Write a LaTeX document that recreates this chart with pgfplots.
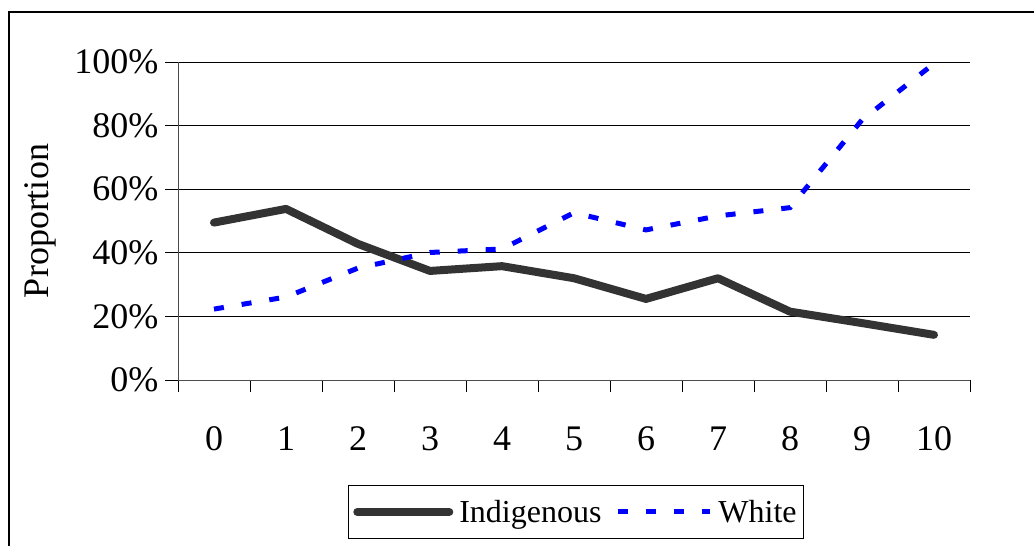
\documentclass[border=0pt]{standalone}
\usepackage{fontspec}
\setmainfont{Liberation Serif}
\usepackage{pgfplots}
\pgfplotsset{compat=1.18}

\definecolor{indig}{RGB}{51,51,51}
\definecolor{whiteser}{RGB}{0,0,255}

\newcommand{\tickfont}{\fontsize{36bp}{42bp}\selectfont}
\newcommand{\legfont}{\fontsize{32bp}{38bp}\selectfont}

\begin{document}
\begin{tikzpicture}
\path[use as bounding box, clip] (0,0) rectangle (1034bp,546bp);
% outer frame (right and bottom edges fall outside the picture)
\draw[line width=1.3bp] (9bp,-10bp) -- (9bp,534bp) -- (1050bp,534bp);

\begin{axis}[
    at={(178bp,166bp)}, anchor=south west,
    scale only axis,
    width=792bp, height=318bp,
    xmin=-0.5, xmax=10.5,
    ymin=0, ymax=100,
    axis x line=bottom, axis y line=left,
    axis line style={-, line width=0.9bp, black!70},
    xtick={0,...,10},
    xticklabels={0,1,2,3,4,5,6,7,8,9,10},
    minor xtick={-0.5,0.5,...,10.5},
    ytick={0,20,...,100},
    yticklabels={0\%,20\%,40\%,60\%,80\%,100\%},
    tick align=outside,
    major tick length=13bp,
    minor tick length=12bp,
    major x tick style={draw=none},
    minor x tick style={line width=0.9bp, black},
    major y tick style={line width=0.9bp, black},
    ymajorgrids,
    major grid style={line width=0.9bp, black},
    tick label style={font=\tickfont},
    xticklabel style={yshift=-30bp},
    yticklabel style={xshift=-3bp},
    ylabel={Proportion},
    ylabel style={font=\tickfont, at={(axis description cs:-0.174,0.5)}, anchor=center},
    legend columns=2,
    legend style={at={(axis description cs:0.5025,-0.415)}, anchor=center,
        draw=black, line width=1bp, font=\legfont,
        inner xsep=5bp, inner ysep=13bp,
        /tikz/every even column/.append style={column sep=12bp},
        /tikz/every odd column/.append style={column sep=4bp}},
    legend image code/.code={\draw[#1] (0bp,0bp) -- (92bp,0bp);},
]

\addplot[indig, line width=8bp, line join=round, line cap=round] coordinates {
    (0,49.5) (1,53.8) (2,42.8) (3,34.3) (4,35.8) (5,32.0)
    (6,25.5) (7,32.0) (8,21.5) (9,17.9) (10,14.2)
};
\addlegendentry{Indigenous}

\addplot[whiteser, line width=5bp, dash pattern=on 10bp off 18bp] coordinates {
    (0,22.3) (1,26.1) (2,35.2) (3,40.1) (4,41.2) (5,52.6)
    (6,47.2) (7,51.6) (8,54.2) (9,81.8) (10,99.5)
};
\addlegendentry{White}

\end{axis}
\end{tikzpicture}
\end{document}
